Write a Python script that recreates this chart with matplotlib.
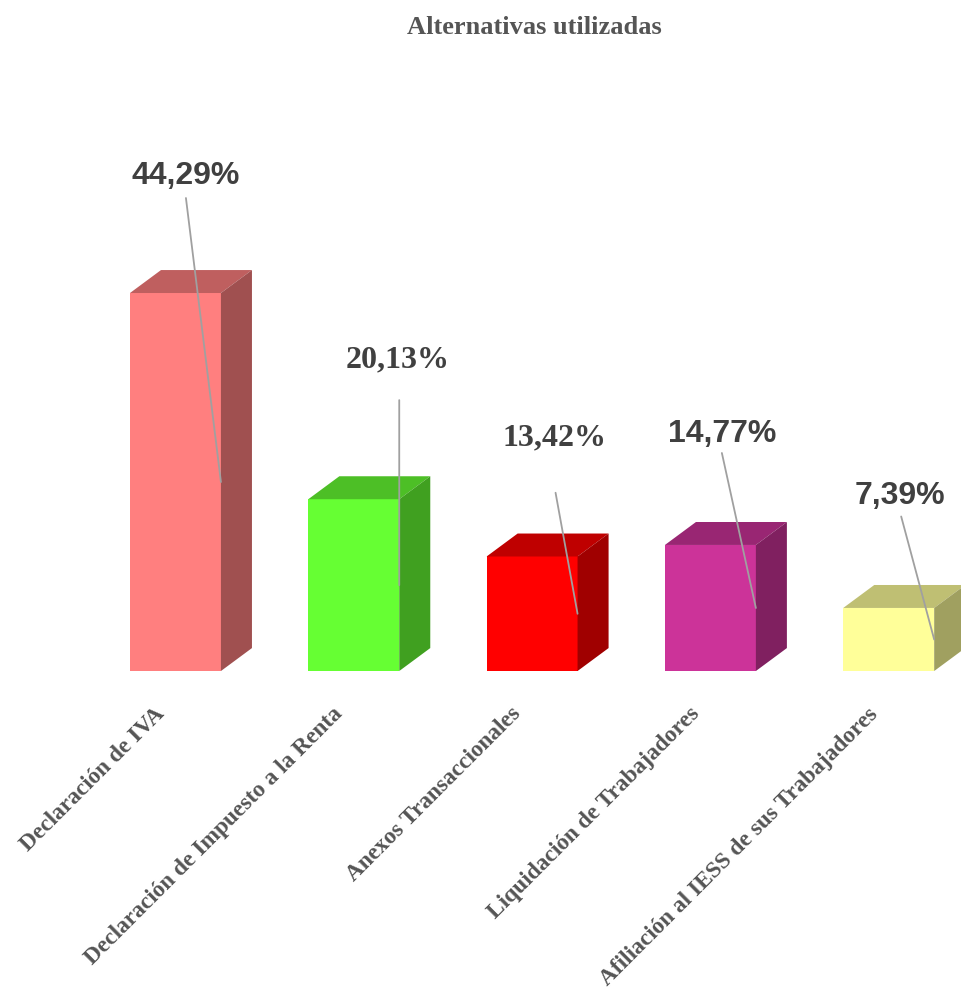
import matplotlib
matplotlib.use("Agg")
import matplotlib.pyplot as plt
from matplotlib.patches import Polygon

# datos
categorias = ["Declaración de IVA", "Declaración de Impuesto a la Renta",
              "Anexos Transaccionales", "Liquidación de Trabajadores",
              "Afiliación al IESS de sus Trabajadores"]
porcentajes = [44.29, 20.13, 13.42, 14.77, 7.39]
etiquetas = ["44,29%", "20,13%", "13,42%", "14,77%", "7,39%"]

# colores: frente, tapa, lado
frente = ["#FF7F7F", "#66FF33", "#FF0000", "#CC3399", "#FFFF99"]
tapa = ["#BF5F5F", "#4DBF26", "#BF0000", "#992673", "#BFBF73"]
lado = ["#A05050", "#40A020", "#A00000", "#802060", "#A0A060"]
fuente_etq = ["Liberation Sans", "Liberation Serif", "Liberation Serif",
              "Liberation Sans", "Liberation Sans"]
# desplazamientos (px) de la linea guia y del texto respecto al anclaje
linea_off = [(-35, 284), (0, 185), (-22, 121), (-34, 155), (-33, 123)]
texto_off = [(-35, 306), (-2, 225), (-23, 176), (-34, 174), (-34, 143)]

fig = plt.figure(figsize=(9.62, 9.91), dpi=100)
ax = fig.add_axes([0, 0, 1, 1])
ax.set_xlim(-0.984, 4.411)
ax.set_ylim(-37.49, 78.62)
ax.axis("off")

ancho = 0.51
dx, dy = 0.174, 2.69

for i, v in enumerate(porcentajes):
    x0, x1 = i - ancho / 2, i + ancho / 2
    ax.bar(i, v, width=ancho, color=frente[i], zorder=2)
    ax.add_patch(Polygon([(x0, v), (x1, v), (x1 + dx, v + dy), (x0 + dx, v + dy)],
                         closed=True, color=tapa[i], lw=0, zorder=2))
    ax.add_patch(Polygon([(x1, 0), (x1 + dx, dy), (x1 + dx, v + dy), (x1, v)],
                         closed=True, color=lado[i], lw=0, zorder=2))
    ancla = (x1, v / 2)
    ax.annotate("", xy=ancla, xytext=linea_off[i], textcoords="offset pixels",
                arrowprops=dict(arrowstyle="-", color="#A0A0A0", lw=1.3,
                                shrinkA=0, shrinkB=0), zorder=3)
    ax.annotate(etiquetas[i], xy=ancla, xytext=texto_off[i], textcoords="offset pixels",
                ha="center", va="center", fontsize=23, fontweight="bold",
                family=fuente_etq[i], color="#404040", zorder=4)
    ax.text(i - 0.12, -3.8, categorias[i], rotation=45, rotation_mode="anchor",
            ha="right", va="top", fontsize=16.8, fontweight="bold",
            family="Liberation Serif", color="#555555")

fig.text(0.556, 0.972, "Alternativas utilizadas", ha="center", va="center",
         fontsize=19, fontweight="bold", family="Liberation Serif", color="#555555")

fig.savefig("out.png", dpi=100)
